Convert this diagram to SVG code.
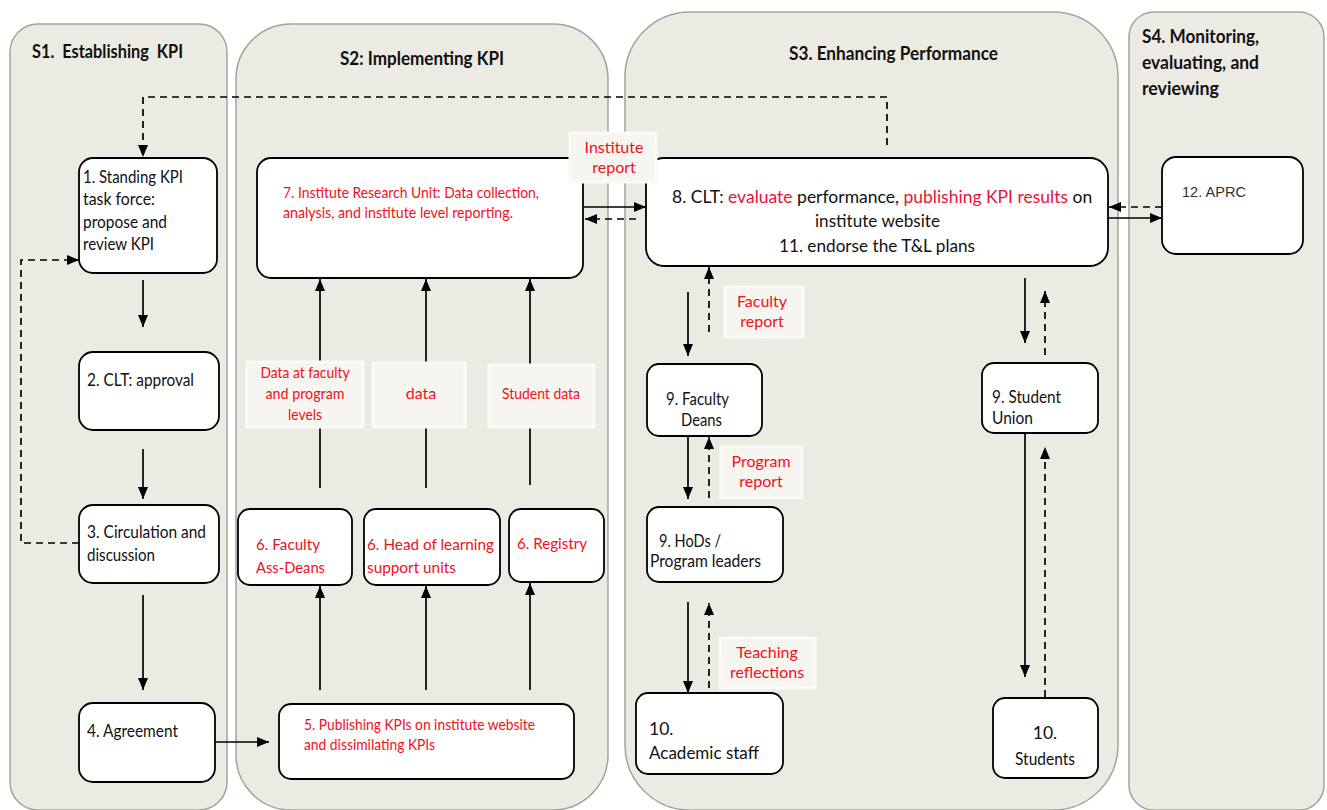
<svg xmlns="http://www.w3.org/2000/svg" width="1327" height="810" viewBox="0 0 1327 810">
<defs>
<marker id="ah" viewBox="0 0 12 10" refX="12" refY="5" markerWidth="12" markerHeight="10" orient="auto" markerUnits="userSpaceOnUse"><path d="M0,0 L12,5 L0,10 z" fill="#000"/></marker>
<style>
.lane{fill:#ecebe3;stroke:#a3a39e;stroke-width:1.5}
.node{fill:#fff;stroke:#000;stroke-width:1.8}
.t{font-family:Lato,"Open Sans",sans-serif;font-size:17.5px;fill:#111}
.r{font-family:Lato,"Open Sans",sans-serif;font-size:16px;fill:#ee1122}
.h{font-family:Lato,"Open Sans",sans-serif;font-size:19px;font-weight:bold;fill:#111}
.lbl{fill:#f7f5f0;stroke:#fbfaf8;stroke-width:3}
.s{fill:none;stroke:#000;stroke-width:1.7}
.d{fill:none;stroke:#000;stroke-width:1.7;stroke-dasharray:7 5}
</style>
</defs>
<rect width="1327" height="810" fill="#fff"/>
<g id="lanes">
<g id="lane-s1"><rect class="lane" x="10" y="24" width="217" height="786" rx="28"/><text class="h" x="32" y="58" textLength="151" lengthAdjust="spacingAndGlyphs">S1.&#160; Establishing&#160; KPI</text></g>
<g id="lane-s2"><rect class="lane" x="236" y="24" width="372" height="786" rx="55"/><text class="h" x="340" y="65" textLength="164" lengthAdjust="spacingAndGlyphs">S2: Implementing KPI</text></g>
<g id="lane-s3"><rect class="lane" x="625" y="12" width="493" height="798" rx="65"/><text class="h" x="789" y="60" textLength="209" lengthAdjust="spacingAndGlyphs">S3. Enhancing Performance</text></g>
<g id="lane-s4"><rect class="lane" x="1129" y="12" width="195" height="798" rx="25"/><text class="h" x="1142" y="43" textLength="117" lengthAdjust="spacingAndGlyphs">S4. Monitoring,</text><text class="h" x="1142" y="69" textLength="117" lengthAdjust="spacingAndGlyphs">evaluating, and</text><text class="h" x="1142" y="95" textLength="77" lengthAdjust="spacingAndGlyphs">reviewing</text></g>
</g>
<g id="n1"><rect class="node" x="79" y="158" width="138" height="115" rx="14"/><text class="t" x="83" y="183" textLength="100" lengthAdjust="spacingAndGlyphs">1. Standing KPI</text><text class="t" x="83" y="205" textLength="72" lengthAdjust="spacingAndGlyphs">task force:</text><text class="t" x="83" y="228" textLength="84" lengthAdjust="spacingAndGlyphs">propose and</text><text class="t" x="83" y="250" textLength="71" lengthAdjust="spacingAndGlyphs">review KPI</text></g>
<g id="n2"><rect class="node" x="79" y="352" width="140" height="78" rx="14"/><text class="t" x="87" y="386" textLength="107" lengthAdjust="spacingAndGlyphs">2. CLT: approval</text></g>
<g id="n3"><rect class="node" x="79" y="505" width="140" height="78" rx="14"/><text class="t" x="87" y="538" textLength="119" lengthAdjust="spacingAndGlyphs">3. Circulation and</text><text class="t" x="87" y="561" textLength="68" lengthAdjust="spacingAndGlyphs">discussion</text></g>
<g id="n4"><rect class="node" x="79" y="703" width="136" height="79" rx="14"/><text class="t" x="87" y="737" textLength="91" lengthAdjust="spacingAndGlyphs">4. Agreement</text></g>
<g id="n5"><rect class="node" x="279" y="704" width="295" height="75" rx="12"/><text class="r" x="304" y="730" textLength="231" lengthAdjust="spacingAndGlyphs">5. Publishing KPIs on institute website</text><text class="r" x="304" y="750" textLength="131" lengthAdjust="spacingAndGlyphs">and dissimilating KPIs</text></g>
<g id="n6a"><rect class="node" x="238" y="509" width="114" height="76" rx="12"/><text class="r" x="256" y="550" font-size="17.5" textLength="64" lengthAdjust="spacingAndGlyphs">6. Faculty</text><text class="r" x="256" y="573" font-size="17.5" textLength="69" lengthAdjust="spacingAndGlyphs">Ass-Deans</text></g>
<g id="n6b"><rect class="node" x="364" y="509" width="136" height="76" rx="12"/><text class="r" x="367" y="550" font-size="17.5" textLength="127" lengthAdjust="spacingAndGlyphs">6. Head of learning</text><text class="r" x="367" y="573" font-size="17.5" textLength="89" lengthAdjust="spacingAndGlyphs">support units</text></g>
<g id="n6c"><rect class="node" x="509" y="509" width="95" height="73" rx="12"/><text class="r" x="517" y="549" font-size="17.5" textLength="70" lengthAdjust="spacingAndGlyphs">6. Registry</text></g>
<g id="n7"><rect class="node" x="257" y="158" width="326" height="120" rx="14"/><text class="r" x="283" y="198" textLength="256" lengthAdjust="spacingAndGlyphs">7. Institute Research Unit: Data collection,</text><text class="r" x="283" y="218" textLength="230" lengthAdjust="spacingAndGlyphs">analysis, and institute level reporting.</text></g>
<g id="n8"><rect class="node" x="646" y="158" width="462" height="108" rx="18"/>
<text class="t" x="672" y="203" font-size="17">8. CLT: <tspan fill="#e8113a">evaluate</tspan> performance, <tspan fill="#e8113a">publishing KPI results</tspan> on</text>
<text class="t" x="815" y="227" font-size="18.5" textLength="125" lengthAdjust="spacingAndGlyphs">institute website</text><text class="t" x="779" y="252" font-size="18.5" textLength="196" lengthAdjust="spacingAndGlyphs">11. endorse the T&amp;L plans</text></g>
<g id="n12"><rect class="node" x="1162" y="157" width="141" height="97" rx="14"/><text x="1182" y="197" font-family="'Liberation Sans',Arial,sans-serif" font-size="15" fill="#333" textLength="64" lengthAdjust="spacingAndGlyphs">12. APRC</text></g>
<g id="n9a"><rect class="node" x="647" y="364" width="115" height="72" rx="12"/><text class="t" x="666" y="405" textLength="63" lengthAdjust="spacingAndGlyphs">9. Faculty</text><text class="t" x="681" y="426" textLength="41" lengthAdjust="spacingAndGlyphs">Deans</text></g>
<g id="n9b"><rect class="node" x="647" y="507" width="136" height="75" rx="12"/><text class="t" x="659" y="547" textLength="62" lengthAdjust="spacingAndGlyphs">9. HoDs /</text><text class="t" x="650" y="567" textLength="111" lengthAdjust="spacingAndGlyphs">Program leaders</text></g>
<g id="n10a"><rect class="node" x="636" y="693" width="147" height="81" rx="12"/><text class="t" x="649" y="735" font-size="18.5">10.</text><text class="t" x="649" y="759" font-size="18.5" textLength="110" lengthAdjust="spacingAndGlyphs">Academic staff</text></g>
<g id="n9c"><rect class="node" x="982" y="363" width="116" height="70" rx="12"/><text class="t" x="992" y="403" textLength="69" lengthAdjust="spacingAndGlyphs">9. Student</text><text class="t" x="992" y="424" textLength="41" lengthAdjust="spacingAndGlyphs">Union</text></g>
<g id="n10b"><rect class="node" x="993" y="698" width="105" height="80" rx="12"/><text class="t" x="1045" y="739" font-size="18.5" text-anchor="middle">10.</text><text class="t" x="1045" y="765" font-size="18.5" text-anchor="middle" textLength="60" lengthAdjust="spacingAndGlyphs">Students</text></g>
<g id="connectors">
<path class="d" d="M887,145 V97 H143 V157" marker-end="url(#ah)"/>
<path class="d" d="M79,543 H21 V260 H79" marker-end="url(#ah)" stroke="#333"/>
<path class="s" d="M143,280 V327" marker-end="url(#ah)"/>
<path class="s" d="M143,449 V499" marker-end="url(#ah)"/>
<path class="s" d="M143,595 V690" marker-end="url(#ah)"/>
<path class="s" d="M215,742 H269" marker-end="url(#ah)"/>
<path class="s" d="M320,690 V586" marker-end="url(#ah)"/>
<path class="s" d="M426,690 V586" marker-end="url(#ah)"/>
<path class="s" d="M530,690 V583" marker-end="url(#ah)"/>
<path class="s" d="M320,488 V279" marker-end="url(#ah)"/>
<path class="s" d="M426,488 V279" marker-end="url(#ah)"/>
<path class="s" d="M530,485 V279" marker-end="url(#ah)"/>
<path class="s" d="M584,207 H646" marker-end="url(#ah)"/>
<path class="d" d="M636,219 H585" marker-end="url(#ah)"/>
<path class="s" d="M688,292 V356" marker-end="url(#ah)"/>
<path class="d" d="M709,332 V267" marker-end="url(#ah)"/>
<path class="s" d="M688,437 V499" marker-end="url(#ah)"/>
<path class="d" d="M709,498 V437" marker-end="url(#ah)"/>
<path class="s" d="M688,602 V693" marker-end="url(#ah)"/>
<path class="d" d="M709,688 V603" marker-end="url(#ah)"/>
<path class="s" d="M1025,278 V343" marker-end="url(#ah)"/>
<path class="d" d="M1045,355 V291" marker-end="url(#ah)"/>
<path class="s" d="M1025,434 V677" marker-end="url(#ah)"/>
<path class="d" d="M1045,697 V447" marker-end="url(#ah)"/>
<path class="d" d="M1162,207 H1109" marker-end="url(#ah)"/>
<path class="s" d="M1108,218 H1162" marker-end="url(#ah)"/>
</g>
<g id="labels">
<g id="lbl-inst"><rect class="lbl" x="570" y="133" width="86" height="49"/><text class="r" x="614" y="153" font-size="15" text-anchor="middle">Institute</text><text class="r" x="614" y="173" font-size="15" text-anchor="middle">report</text></g>
<g id="lbl-data1"><rect class="lbl" x="247" y="362" width="116" height="65"/><text class="r" x="305" y="378" font-size="15" text-anchor="middle" textLength="89" lengthAdjust="spacingAndGlyphs">Data at faculty</text><text class="r" x="305" y="399" font-size="15" text-anchor="middle" textLength="79" lengthAdjust="spacingAndGlyphs">and program</text><text class="r" x="305" y="420" font-size="15" text-anchor="middle" textLength="34" lengthAdjust="spacingAndGlyphs">levels</text></g>
<g id="lbl-data2"><rect class="lbl" x="373" y="363" width="92" height="64"/><text class="r" x="421" y="399" font-size="15" text-anchor="middle">data</text></g>
<g id="lbl-data3"><rect class="lbl" x="489" y="365" width="105" height="62"/><text class="r" x="541" y="399" font-size="15" text-anchor="middle" textLength="78" lengthAdjust="spacingAndGlyphs">Student data</text></g>
<g id="lbl-fac"><rect class="lbl" x="725" y="287" width="78" height="50"/><text class="r" x="762" y="307" font-size="15" text-anchor="middle">Faculty</text><text class="r" x="762" y="327" font-size="15" text-anchor="middle">report</text></g>
<g id="lbl-prog"><rect class="lbl" x="721" y="447" width="81" height="51"/><text class="r" x="761" y="467" font-size="15" text-anchor="middle">Program</text><text class="r" x="761" y="487" font-size="15" text-anchor="middle">report</text></g>
<g id="lbl-teach"><rect class="lbl" x="720" y="638" width="95" height="50"/><text class="r" x="767" y="658" font-size="15" text-anchor="middle">Teaching</text><text class="r" x="767" y="678" font-size="15" text-anchor="middle">reflections</text></g>
</g>
</svg>
